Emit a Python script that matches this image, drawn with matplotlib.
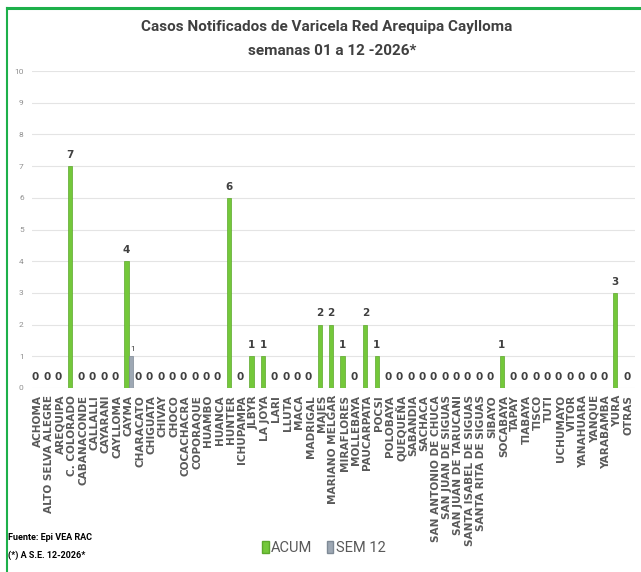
import numpy as np
import matplotlib
matplotlib.use("Agg")
import matplotlib.pyplot as plt
from matplotlib.lines import Line2D
from matplotlib.patches import Patch

# distritos
categorias = ["ACHOMA", "ALTO SELVA ALEGRE", "AREQUIPA", "C. COLORADO", "CABANACONDE",
              "CALLALLI", "CAYARANI", "CAYLLOMA", "CAYMA", "CHARACATO", "CHIGUATA",
              "CHIVAY", "CHOCO", "COCACHACRA", "COPORAQUE", "HUAMBO", "HUANCA", "HUNTER",
              "ICHUPAMPA", "JLBYR", "LA JOYA", "LARI", "LLUTA", "MACA", "MADRIGAL",
              "MAJES", "MARIANO MELGAR", "MIRAFLORES", "MOLLEBAYA", "PAUCARPATA", "POCSI",
              "POLOBAYA", "QUEQUEÑA", "SABANDIA", "SACHACA", "SAN ANTONIO DE CHUCA",
              "SAN JUAN DE SIGUAS", "SAN JUAN DE TARUCANI", "SANTA ISABEL DE SIGUAS",
              "SANTA RITA DE SIGUAS", "SIBAYO", "SOCABAYA", "TAPAY", "TIABAYA", "TISCO",
              "TUTI", "UCHUMAYO", "VITOR", "YANAHUARA", "YANQUE", "YARABAMBA", "YURA",
              "OTRAS"]

acum = [0, 0, 0, 7, 0, 0, 0, 0, 4, 0, 0, 0, 0, 0, 0, 0, 0, 6, 0, 1, 1, 0, 0, 0, 0,
        2, 2, 1, 0, 2, 1, 0, 0, 0, 0, 0, 0, 0, 0, 0, 0, 1, 0, 0, 0, 0, 0, 0, 0, 0, 0, 3, 0]
sem12 = [0] * len(categorias)
sem12[categorias.index("CAYMA")] = 1

narrow = ["Liberation Sans Narrow", "Roboto", "DejaVu Sans"]

fig = plt.figure(figsize=(6.41, 5.72), dpi=100)
ax = fig.add_axes([0.05, 0.3217, 0.94, 0.554])

x = np.arange(len(categorias))
w = 0.37
ax.bar(x - 0.19, acum, w, color="#74C83A", edgecolor="#5DA82C", linewidth=0.5, label="ACUM", zorder=3)
ax.bar(x + 0.19, sem12, w, color="#9EA8B4", edgecolor="#7F8A96", linewidth=0.5, label="SEM 12", zorder=3)

# etiquetas de valores
for xi, v in zip(x, acum):
    ax.annotate(str(v), (xi - 0.19, v), xytext=(0, 4.5), textcoords="offset points",
                ha="center", va="bottom", fontsize=7.5, fontweight="bold", color="#404040")
for xi, v in zip(x, sem12):
    if v > 0:
        ax.annotate(str(v), (xi + 0.19, v), xytext=(1, 3), textcoords="offset points",
                    ha="center", va="bottom", fontsize=6, color="#404040", family=narrow)

ax.set_xlim(-0.5, len(categorias) - 0.5)
ax.set_ylim(0, 10)
ax.set_yticks(range(0, 11))
ax.grid(axis="y", color="#E4E4E4", linewidth=0.8, zorder=0)
for s in ax.spines.values():
    s.set_visible(False)
ax.tick_params(axis="both", length=0)
ax.tick_params(axis="y", labelsize=6, labelcolor="#909090", pad=6)
ax.set_xticks(x)
ax.set_xticklabels(categorias, rotation=90, fontsize=7.6, fontweight="bold", color="#595959")
ax.tick_params(axis="x", pad=5)
for t in ax.get_yticklabels():
    t.set_family(narrow)

fig.text(0.51, 0.953, "Casos Notificados de Varicela Red Arequipa Caylloma",
         ha="center", va="center", fontsize=11, fontweight="bold", color="#404040", family=narrow)
fig.text(0.518, 0.91, "semanas 01 a 12 -2026*",
         ha="center", va="center", fontsize=11, fontweight="bold", color="#404040", family=narrow)

fig.legend(handles=[Patch(facecolor="#74C83A", edgecolor="#5DA82C", label="ACUM"),
                    Patch(facecolor="#9EA8B4", edgecolor="#7F8A96", label="SEM 12")],
           loc="center", bbox_to_anchor=(0.505, 0.042), ncol=2, frameon=False,
           prop={"family": narrow, "size": 10.5}, labelcolor="#595959",
           handlelength=0.45, handleheight=0.9, handletextpad=0.15, columnspacing=1.0)

fig.text(0.013, 0.06, "Fuente: Epi VEA RAC", ha="left", va="center",
         fontsize=6.5, fontweight="bold", family=narrow)
fig.text(0.013, 0.03, "(*) A S.E. 12-2026*", ha="left", va="center",
         fontsize=6.5, fontweight="bold", family=narrow)

# marco verde
fig.add_artist(Line2D([0.011, 1.0], [0.986, 0.986], color="#1DB04A", linewidth=2.2))
fig.add_artist(Line2D([0.011, 0.011], [0.0, 0.986], color="#1DB04A", linewidth=1.5))

fig.savefig("out.png", dpi=100)
